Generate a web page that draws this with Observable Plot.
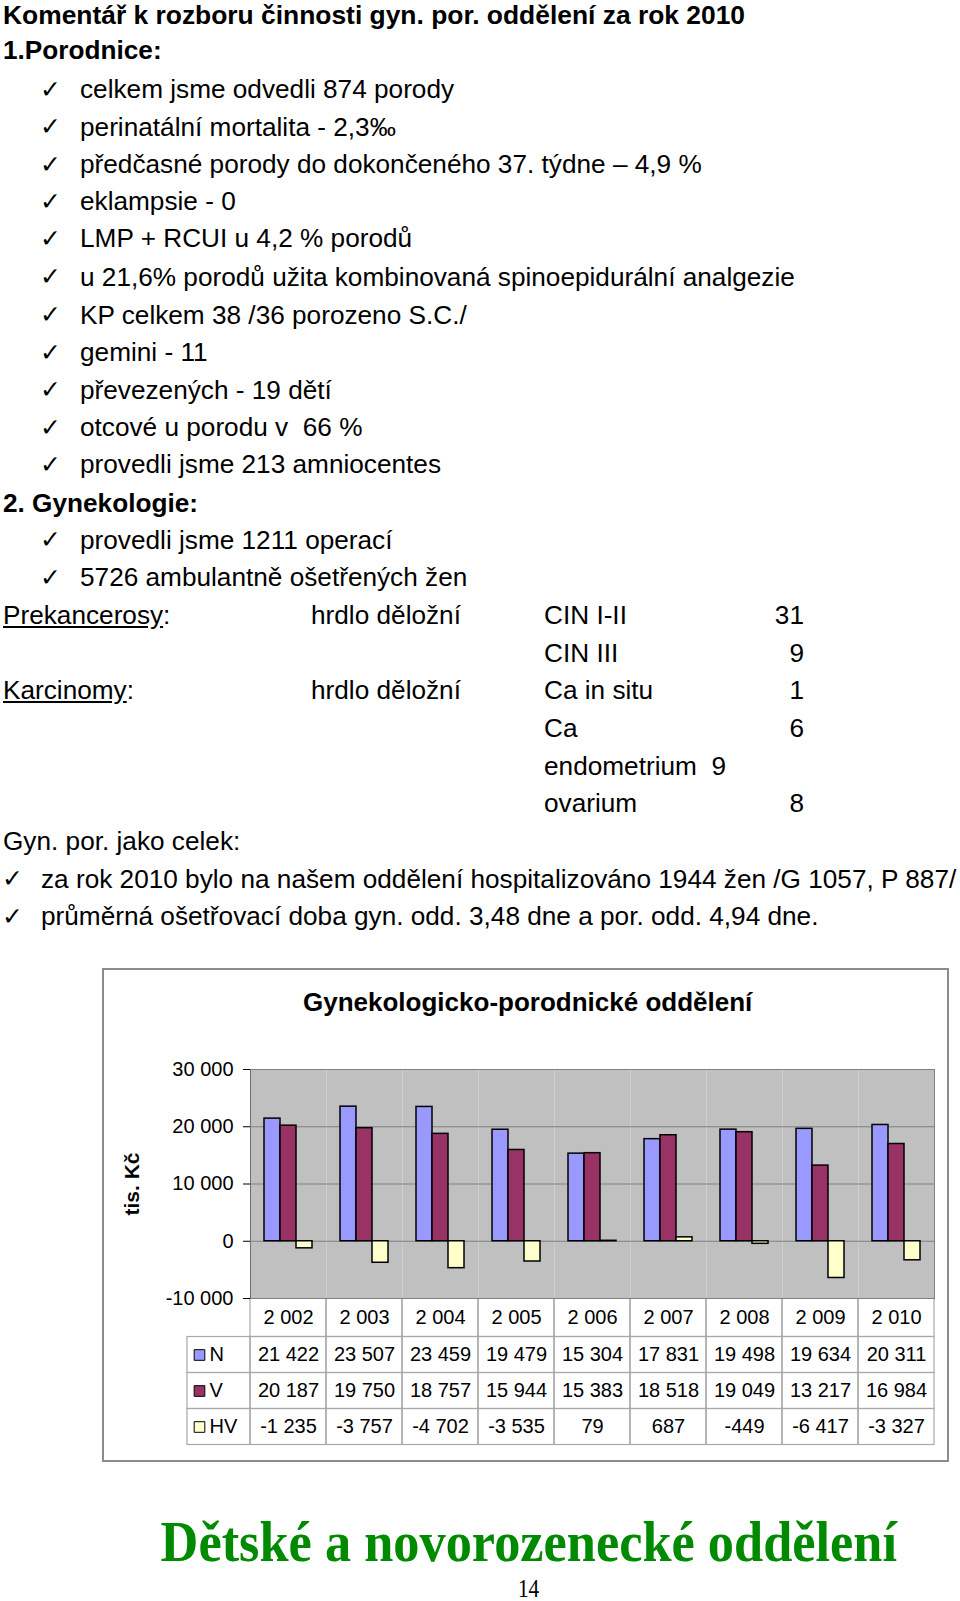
<!DOCTYPE html>
<html>
<head>
<meta charset="utf-8">
<script src="https://cdn.jsdelivr.net/npm/d3@7"></script>
<script src="https://cdn.jsdelivr.net/npm/@observablehq/plot@0.6"></script>
<style>
html, body { margin: 0; padding: 0; background: #fff; }
#page { position: relative; width: 960px; height: 1601px; overflow: hidden; font-family: "Liberation Sans", Arial, sans-serif; color: #000; background: #fff; }
.ln { position: absolute; font-size: 26.2px; line-height: 30px; white-space: pre; }
.b { font-weight: bold; }
.t { font-size: 26.4px; line-height: 30px; }
.ck { position: absolute; font-family: "DejaVu Sans", sans-serif; font-size: 25px; line-height: 30px; }
#box { position: absolute; left: 102px; top: 968px; width: 847px; height: 494px; box-sizing: border-box; border: 2px solid #8c8c8c; background: #fff; }
#ctitle { position: absolute; left: 303px; font-size: 26px; font-weight: bold; line-height: 30px; white-space: pre; }
.plot { position: absolute; left: 0; }
#green { position: absolute; width: 960px; text-align: center; font-family: "Liberation Serif", "Times New Roman", serif; font-weight: bold; color: #008a00; font-size: 56px; line-height: 60px; white-space: pre; }
#green span { display: inline-block; transform: scaleX(0.935); transform-origin: center; }
#pnum { position: absolute; width: 960px; text-align: center; font-family: "Liberation Serif", "Times New Roman", serif; font-size: 25px; line-height: 30px; }
#pnum span { display: inline-block; transform: scaleX(0.85); }
</style>
</head>
<body>
<div id="page"></div>
<script>
// ---------- document text ----------
const docTitle = "Komentář k rozboru činnosti gyn. por. oddělení za rok 2010";
const section1 = "1.Porodnice:";
const bullets1 = [
  "celkem jsme odvedli 874 porody",
  "perinatální mortalita - 2,3‰",
  "předčasné porody do dokončeného 37. týdne – 4,9 %",
  "eklampsie - 0",
  "LMP + RCUI u 4,2 % porodů",
  "u 21,6% porodů užita kombinovaná spinoepidurální analgezie",
  "KP celkem 38 /36 porozeno S.C./",
  "gemini - 11",
  "převezených - 19 dětí",
  "otcové u porodu v  66 %",
  "provedli jsme 213 amniocentes"
];
const section2 = "2. Gynekologie:";
const bullets2 = ["provedli jsme 1211 operací", "5726 ambulantně ošetřených žen"];
const tumorGroups = ["Prekancerosy", "", "Karcinomy", "", "", ""];
const tumorOrgans = ["hrdlo děložní", "", "hrdlo děložní", "", "", ""];
const tumorTypes = ["CIN I-II", "CIN III", "Ca in situ", "Ca", "endometrium  9", "ovarium"];
const tumorCounts = ["31", "9", "1", "6", "", "8"];
const section3 = "Gyn. por. jako celek:";
const bullets3 = [
  "za rok 2010 bylo na našem oddělení hospitalizováno 1944 žen /G 1057, P 887/",
  "průměrná ošetřovací doba gyn. odd. 3,48 dne a por. odd. 4,94 dne."
];
const footerHeading = "Dětské a novorozenecké oddělení";
const pageNumber = "14";

// ---------- chart data ----------
const chartTitle = "Gynekologicko-porodnické oddělení";
const yAxisTitle = "tis. Kč";
const years = [2002, 2003, 2004, 2005, 2006, 2007, 2008, 2009, 2010];
const seriesNames = ["N", "V", "HV"];
const valuesN = [21422, 23507, 23459, 19479, 15304, 17831, 19498, 19634, 20311];
const valuesV = [20187, 19750, 18757, 15944, 15383, 18518, 19049, 13217, 16984];
const valuesHV = [-1235, -3757, -4702, -3535, 79, 687, -449, -6417, -3327];
const yTicks = [-10000, 0, 10000, 20000, 30000];
const seriesColors = ["#9999ff", "#993366", "#ffffcc"];

// ---------- text layout ----------
const page = document.getElementById("page");
function addLine(baseline, x, html, cls, offset = 24) {
  const d = document.createElement("div");
  d.className = "ln" + (cls ? " " + cls : "");
  d.style.left = x + "px";
  d.style.top = (baseline - offset) + "px";
  d.innerHTML = html;
  page.appendChild(d);
  return d;
}
function addCheck(baseline, x) {
  const d = document.createElement("div");
  d.className = "ck";
  d.style.left = x + "px";
  d.style.top = (baseline - 23.5) + "px";
  d.textContent = "✓";
  page.appendChild(d);
}
const baselines = [24.3, 59, 98, 135.5, 173, 210.2, 247.2, 285.5, 323.5, 361.3, 398.6, 436, 473,
  511.5, 548.6, 586, 623.5, 661.5, 698.8, 736.6, 774.5, 811.8, 850, 887.8, 925];
let k = 0;
addLine(baselines[k++], 3, docTitle, "b t", 24.2);
addLine(baselines[k++], 3, section1, "b");
bullets1.forEach(t => { addCheck(baselines[k], 40); addLine(baselines[k++], 80, t); });
addLine(baselines[k++], 3, section2, "b");
bullets2.forEach(t => { addCheck(baselines[k], 40); addLine(baselines[k++], 80, t); });
tumorTypes.forEach((t, i) => {
  const b = baselines[k++];
  if (tumorGroups[i]) addLine(b, 3, "<u>" + tumorGroups[i] + "</u>:");
  if (tumorOrgans[i]) addLine(b, 311, tumorOrgans[i]);
  addLine(b, 544, t);
  if (tumorCounts[i]) { const d = addLine(b, 0, tumorCounts[i]); d.style.left = "auto"; d.style.right = (960 - 804) + "px"; }
});
addLine(baselines[k++], 3, section3);
bullets3.forEach(t => { addCheck(baselines[k], 2); addLine(baselines[k++], 41, t); });

// ---------- chart box ----------
const box = document.createElement("div");
box.id = "box";
page.appendChild(box);
const ct = document.createElement("div");
ct.id = "ctitle";
ct.style.top = (1010.7 - 24) + "px";
ct.textContent = chartTitle;
page.appendChild(ct);

const fmt = d3.formatLocale({decimal: ",", thousands: " ", grouping: [3], currency: ["", ""], minus: "-"}).format(",");
const seriesValues = [valuesN, valuesV, valuesHV];
const barData = years.flatMap((yr, i) => seriesNames.map((s, j) => ({year: yr, series: s, value: seriesValues[j][i]})));

// table cells (column index, row index)
const tableCells = [];
years.forEach((yr, i) => tableCells.push({c: i, r: 0, label: fmt(yr)}));
seriesNames.forEach((s, j) => {
  years.forEach((yr, i) => tableCells.push({c: i, r: j + 1, label: fmt(seriesValues[j][i])}));
});
const legendCells = seriesNames.map((s, j) => ({c: -1, r: j + 1, series: s}));

const fontFamily = "'Liberation Sans', Arial, sans-serif";

const table = Plot.plot({
  width: 960, height: 150,
  marginTop: 0, marginBottom: 0, marginLeft: 0, marginRight: 0,
  style: {background: "transparent", fontFamily, overflow: "visible"},
  x: {type: "linear", domain: [-1, 0, years.length], range: [187, 250, 934], axis: null},
  y: {type: "linear", domain: [0, 1, 4], range: [0, 38.5, 146.5], axis: null},
  color: {domain: seriesNames, range: seriesColors},
  marks: [
    Plot.rect([...tableCells, ...legendCells], {x1: "c", x2: d => d.c + 1, y1: "r", y2: d => d.r + 1, fill: "none", stroke: "#a8a8a8", strokeWidth: 1.2}),
    Plot.text(tableCells, {x: d => d.c + 0.5, y: d => d.r + 0.5, text: "label", fontSize: 20, fill: "#000"}),
    Plot.dot(legendCells, {x: "c", y: d => d.r + 0.5, dx: 12, symbol: "square", r: 6, fill: "series", stroke: "#000", strokeWidth: 1}),
    Plot.text(legendCells, {x: "c", y: d => d.r + 0.5, dx: 22, text: "series", textAnchor: "start", fontSize: 20, fill: "#000"})
  ]
});
table.classList.add("plot");
table.style.top = "1298px";
page.appendChild(table);

const chart = Plot.plot({
  width: 960, height: 283,
  marginTop: 39, marginBottom: 15, marginLeft: 250, marginRight: 26,
  style: {background: "transparent", fontFamily, overflow: "visible"},
  fx: {domain: years, padding: 0, axis: null},
  x: {domain: seriesNames, paddingInner: 0, paddingOuter: 0.75, axis: null},
  y: {domain: [-10000, 30000], axis: null},
  color: {domain: seriesNames, range: seriesColors},
  marks: [
    Plot.frame({fill: "#c0c0c0", stroke: "none"}),
    Plot.ruleY(yTicks, {stroke: "#808080", strokeWidth: 1}),
    Plot.frame({anchor: "left", stroke: "#707070", facetAnchor: "left"}),
    Plot.frame({anchor: "right", stroke: "#808080", facetAnchor: "right"}),
    Plot.barY(barData, {fx: "year", x: "series", y: "value", fill: "series", stroke: "#000", strokeWidth: 1.5}),
    Plot.axisY({ticks: yTicks, tickFormat: fmt, tickSize: 7, tickPadding: 10, fontSize: 20, label: null}),
    Plot.text([yAxisTitle], {frameAnchor: "left", textAnchor: "middle", dx: -118, rotate: -90, fontSize: 21, fontWeight: "bold", fill: "#000", facetAnchor: "left"})
  ]
});
chart.classList.add("plot");
chart.style.top = "1030px";
page.appendChild(chart);

// ---------- footer ----------
const g = document.createElement("div");
g.id = "green";
g.style.left = "49px";
g.style.top = (1542 - 30) + "px";
g.innerHTML = "<span>" + footerHeading + "</span>";
page.appendChild(g);
const pn = document.createElement("div");
pn.id = "pnum";
pn.style.left = "48px";
pn.style.top = (1589 - 15) + "px";
pn.innerHTML = "<span>" + pageNumber + "</span>";
page.appendChild(pn);
</script>
</body>
</html>
